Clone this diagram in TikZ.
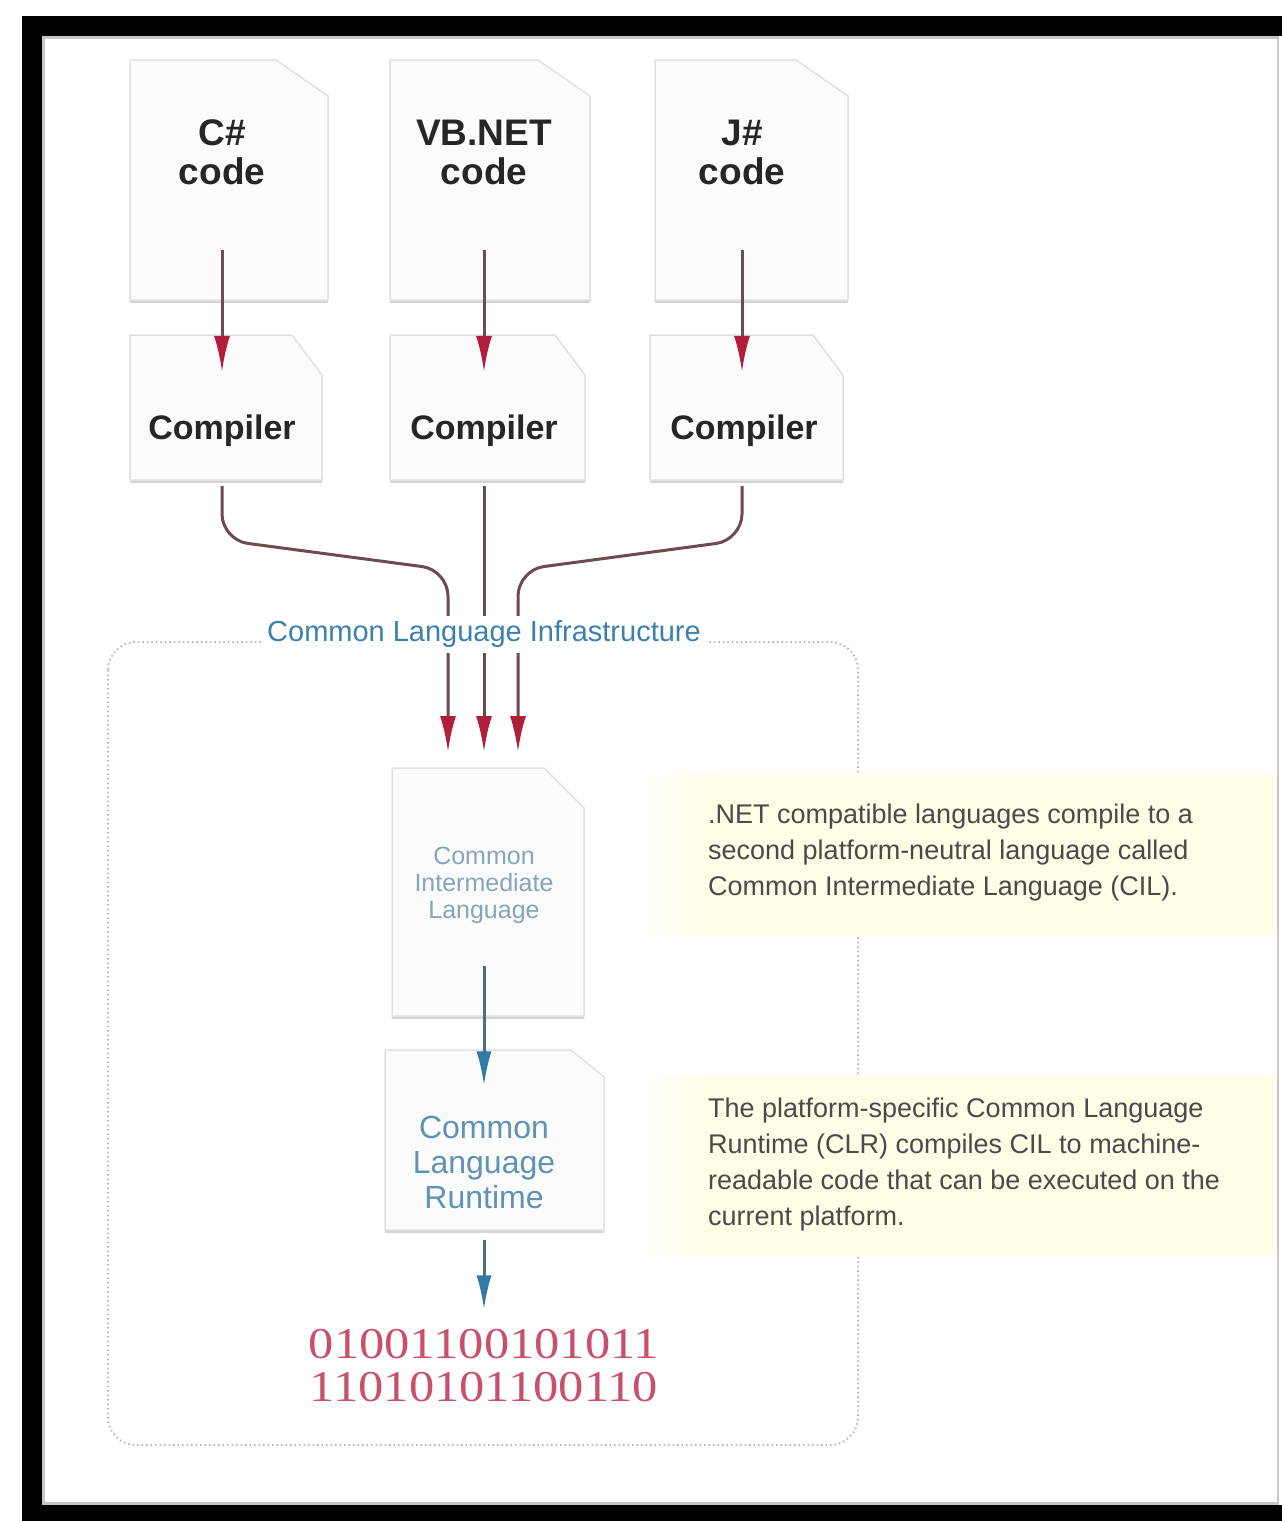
\documentclass[tikz,border=0pt]{standalone}
\usepackage{fontspec}
\usepackage{xcolor}
\setmainfont{Liberation Sans}
\newfontfamily\binfont[FakeStretch=1.15]{Liberation Serif}
\usetikzlibrary{arrows.meta}

\definecolor{docgray}{HTML}{E0E0E0}
\definecolor{docshade}{HTML}{D4D4D4}
\definecolor{redwire}{HTML}{6E4A52}
\definecolor{tipred}{HTML}{B01E3C}
\definecolor{bluewire}{HTML}{4D6E84}
\definecolor{tipblue}{HTML}{2F7BA6}
\definecolor{cliblue}{HTML}{3C80AE}
\definecolor{cilblue}{HTML}{86A6BC}
\definecolor{clrblue}{HTML}{5E93B5}
\definecolor{binred}{HTML}{C8506A}
\definecolor{notegray}{HTML}{4A4A4A}
\definecolor{notebg}{HTML}{FFFDE6}
\definecolor{boxgray}{HTML}{B8B8B8}

\tikzset{
  docbox/.style={rectangle, inner sep=0pt, outer sep=0pt},
  docline/.style={draw=docgray, line width=1.5pt, fill=gray!3},
  docshadow/.style={draw=docshade, line width=3pt},
  codelabel/.style={font=\bfseries\fontsize{37}{39}\selectfont, align=center, inner sep=0pt, text=black!85},
  complabel/.style={font=\bfseries\fontsize{34}{36}\selectfont, inner sep=0pt, text=black!85},
  redarrow/.style={draw=redwire, line width=3pt, -{Latex[length=36pt, width=16pt, color=tipred]}},
  bluearrow/.style={draw=bluewire, line width=3pt, -{Latex[length=34pt, width=15pt, color=tipblue]}},
  clibox/.style={draw=boxgray, line width=2pt, dash pattern=on 1.5pt off 3pt, rounded corners=28pt},
  clilabel/.style={font=\fontsize{29}{31}\selectfont, text=cliblue, fill=white, inner sep=5pt},
  ciltext/.style={font=\fontsize{25}{27}\selectfont, align=center, inner sep=0pt, text=cilblue},
  clrtext/.style={font=\fontsize{32}{35}\selectfont, align=center, inner sep=0pt, text=clrblue},
  bintext/.style={font=\binfont\fontsize{44}{43}\selectfont, align=center, inner sep=0pt, text=binred},
  notetext/.style={font=\fontsize{27}{36}\selectfont, align=left, inner sep=0pt, text=notegray}
}

% page with folded top right corner, drawn round a docbox node
\newcommand{\docpage}[3]{%
  \draw[docshadow] ([yshift=-1.5pt]#1.south west) -- ([yshift=-1.5pt]#1.south east);
  \path[docline] (#1.south west) -- (#1.north west) -- ([xshift=-#2]#1.north east) -- ([yshift=-#3]#1.north east) -- (#1.south east) -- cycle;
}

\begin{document}
\begin{tikzpicture}[x=1pt, y=-1pt]
        \useasboundingbox (0,0) rectangle (1282,1521);

        % frame
        \draw [black, line width=20pt] (32,26) rectangle (1300,1515);
        \draw [gray!45, line width=2.5pt] (43.5,37.5) rectangle (1278,1503.5);

        % infrastructure box
        \draw [clibox] (108,642) rectangle (858,1445);

        % notes
        \shade [left color=white, right color=notebg] (640,775) rectangle (712,935);
        \fill [notebg] (712,775) rectangle (1275,935);
        \shade [left color=white, right color=notebg] (640,1075) rectangle (712,1255);
        \fill [notebg] (712,1075) rectangle (1275,1255);

        % pages
        \node [docbox, minimum width=198pt, minimum height=240pt] (csdoc) at (229,180) {};
        \node [docbox, minimum width=200pt, minimum height=240pt] (vbdoc) at (490,180) {};
        \node [docbox, minimum width=193pt, minimum height=240pt] (jsdoc) at (751.5,180) {};
        \docpage{csdoc}{52pt}{36pt}
        \docpage{vbdoc}{52pt}{36pt}
        \docpage{jsdoc}{52pt}{36pt}

        \node [docbox, minimum width=192pt, minimum height=145pt] (ccdoc1) at (226,407.5) {};
        \node [docbox, minimum width=195pt, minimum height=145pt] (ccdoc2) at (487.5,407.5) {};
        \node [docbox, minimum width=193pt, minimum height=145pt] (ccdoc3) at (746.5,407.5) {};
        \docpage{ccdoc1}{30pt}{40pt}
        \docpage{ccdoc2}{30pt}{40pt}
        \docpage{ccdoc3}{30pt}{40pt}

        \node [docbox, minimum width=192pt, minimum height=248pt] (cildoc) at (488,892) {};
        \docpage{cildoc}{40pt}{40pt}
        \node [docbox, minimum width=219pt, minimum height=180pt] (clrdoc) at (494.5,1140) {};
        \docpage{clrdoc}{33pt}{27pt}

        % labels
        \node [codelabel] (cs) at (222,152) {C\#\\code};
        \node [codelabel] (vb) at (484,152) {VB.NET\\code};
        \node [codelabel] (js) at (742,152) {J\#\\code};
        \node [complabel] (cc1) at (222,431) {Compiler};
        \node [complabel] (cc2) at (484,431) {Compiler};
        \node [complabel] (cc3) at (744,431) {Compiler};

        \coordinate (in1) at (448,752);
        \coordinate (in2) at (484,752);
        \coordinate (in3) at (518,752);

        % code to compiler
        \draw [redarrow, shorten <=65pt, shorten >=43pt] (cs.south) -- (cs.south |- cc1.north);
        \draw [redarrow, shorten <=65pt, shorten >=43pt] (vb.south) -- (vb.south |- cc2.north);
        \draw [redarrow, shorten <=65pt, shorten >=43pt] (js.south) -- (js.south |- cc3.north);

        % compiler to intermediate language
        \draw [redarrow, rounded corners=26pt, shorten <=6pt] (cc1 |- ccdoc1.south) -- ([yshift=-60pt]cc1 |- ccdoc1.south) -- ([yshift=182pt]in1) -- (in1);
        \draw [redarrow, shorten <=6pt] (cc2 |- ccdoc2.south) -- (in2);
        \draw [redarrow, rounded corners=26pt, shorten <=6pt] (js |- ccdoc3.south) -- ([yshift=-60pt]js |- ccdoc3.south) -- ([yshift=182pt]in3) -- (in3);

        \node [clilabel] (cli) at (484,634) {Common Language Infrastructure};

        \node [ciltext] (cil) at (484,885) {Common\\Intermediate\\Language};
        \node [clrtext] (clr) at (484,1162) {Common\\Language\\Runtime};
        \node [bintext] (bin) at (484,1366) {01001100101011\\11010101100110};

        \draw [bluearrow, shorten <=42pt, shorten >=30pt] (cil.south) -- (cil.south |- clr.north);
        \draw [bluearrow, shorten <=31pt, shorten >=20pt] (clr.south) -- (clr.south |- bin.north);

        \node [notetext, anchor=north west] (note1) at (708,804) {.NET compatible languages compile to a\\second platform-neutral language called\\Common Intermediate Language (CIL).};
        \node [notetext, anchor=north west] (note2) at (708,1098) {The platform-specific Common Language\\Runtime (CLR) compiles CIL to machine-\\readable code that can be executed on the\\current platform.};
\end{tikzpicture}
\end{document}
